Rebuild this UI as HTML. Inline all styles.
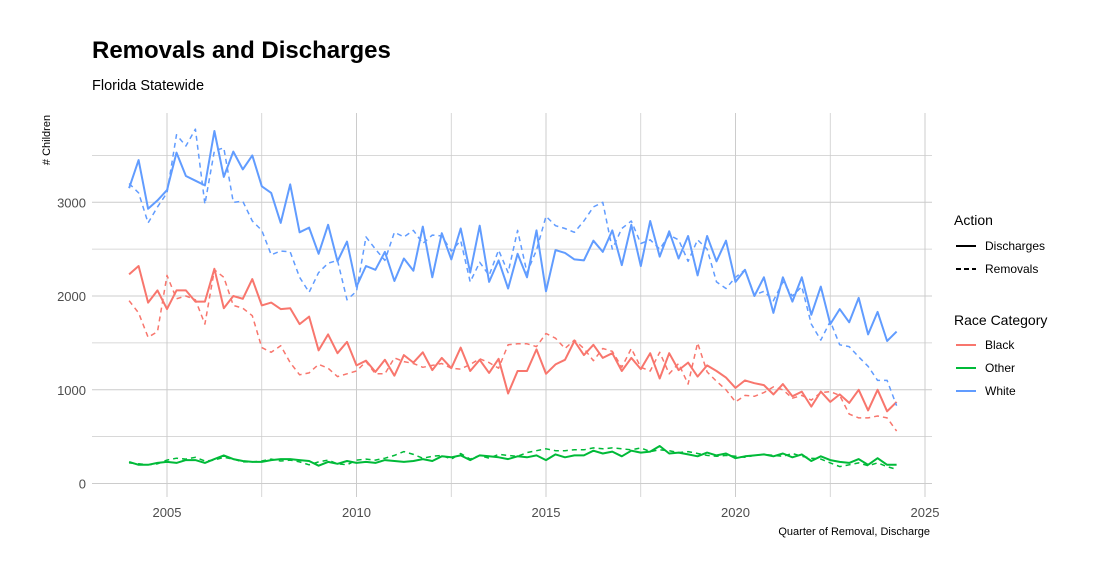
<!DOCTYPE html>
<html><head><meta charset="utf-8"><style>
body{margin:0;background:#fff;font-family:"Liberation Sans",sans-serif;}
svg text{font-family:"Liberation Sans",sans-serif;}
</style></head><body>
<svg id="chart" width="1100" height="576">
<text x="92" y="58" font-size="24" font-weight="bold" fill="#000">Removals and Discharges</text>
<text x="92" y="90" font-size="14.5" fill="#000">Florida Statewide</text>
<g id="grid"></g>
<g id="series"></g>
<g id="axes"></g>
<text transform="translate(50,140) rotate(-90)" text-anchor="middle" font-size="11" fill="#000"># Children</text>
<text x="930" y="535" text-anchor="end" font-size="11" fill="#000">Quarter of Removal, Discharge</text>
<g>
<text x="954" y="225" font-size="14">Action</text>
<line x1="956" y1="246" x2="976" y2="246" stroke="#000" stroke-width="2"/>
<text x="985" y="250" font-size="12">Discharges</text>
<line x1="956" y1="269" x2="976" y2="269" stroke="#000" stroke-width="2" stroke-dasharray="5,3"/>
<text x="985" y="273" font-size="12">Removals</text>
<text x="954" y="325" font-size="14">Race Category</text>
<line x1="956" y1="345" x2="976" y2="345" stroke="#F8766D" stroke-width="2"/>
<text x="985" y="349" font-size="12">Black</text>
<line x1="956" y1="368" x2="976" y2="368" stroke="#00BA38" stroke-width="2"/>
<text x="985" y="372" font-size="12">Other</text>
<line x1="956" y1="391" x2="976" y2="391" stroke="#619CFF" stroke-width="2"/>
<text x="985" y="395" font-size="12">White</text>
</g>
</svg>
<script>
const startYear = 2004;
const xTicks = [2005, 2010, 2015, 2020, 2025];
const yTicks = [0, 1000, 2000, 3000];
const whiteDischarges = [3150,3450,2930,3020, 3130,3530,3280,3230, 3180,3760,3270,3540, 3350,3500,3170,3100, 2780,3190,2680,2730, 2450,2760,2370,2580, 2100,2320,2280,2470, 2160,2400,2270,2740, 2200,2670,2390,2720, 2250,2750,2150,2380, 2080,2450,2200,2700, 2050,2490,2460,2390, 2380,2590,2470,2700, 2330,2760,2320,2800, 2420,2690,2400,2640, 2220,2640,2370,2590, 2150,2280,2000,2200, 1820,2200,1940,2200, 1800,2100,1700,1860, 1720,1980,1590,1830, 1520,1620];
const whiteRemovals = [3200,3100,2780,2950, 3100,3720,3600,3780, 2980,3550,3580,3000, 3010,2800,2700,2440, 2480,2470,2200,2040, 2250,2350,2380,1960, 2050,2630,2500,2380, 2680,2630,2700,2560, 2650,2640,2480,2590, 2150,2360,2220,2490, 2250,2700,2250,2490, 2850,2750,2720,2680, 2800,2950,3000,2500, 2720,2800,2560,2600, 2500,2650,2600,2370, 2600,2500,2150,2080, 2200,2280,2010,2050, 1950,2150,2000,2100, 1700,1530,1730,1480, 1460,1350,1250,1100, 1100,830];
const blackDischarges = [2230,2320,1930,2060, 1860,2060,2060,1940, 1940,2290,1870,2000, 1970,2180,1900,1930, 1860,1870,1700,1780, 1420,1590,1390,1510, 1260,1310,1190,1320, 1150,1370,1290,1400, 1210,1340,1230,1450, 1200,1320,1180,1330, 960,1200,1200,1430, 1170,1270,1320,1520, 1370,1480,1340,1390, 1200,1340,1220,1390, 1120,1390,1210,1290, 1140,1260,1200,1130, 1020,1100,1070,1050, 950,1060,930,980, 820,980,870,950, 860,1000,780,1000, 770,870];
const blackRemovals = [1950,1820,1560,1620, 2220,1970,2000,1960, 1700,2280,2200,1900, 1870,1790,1450,1400, 1470,1290,1160,1180, 1270,1230,1140,1170, 1200,1300,1170,1170, 1340,1300,1280,1240, 1260,1280,1230,1220, 1270,1330,1290,1230, 1480,1490,1490,1460, 1600,1550,1440,1530, 1440,1310,1440,1410, 1240,1440,1240,1200, 1400,1170,1280,1060, 1500,1190,1090,1000, 870,940,930,970, 1030,1000,910,940, 890,970,980,940, 740,700,700,720, 700,560];
const otherDischarges = [230,200,200,220, 230,220,250,250, 220,260,300,260, 240,230,230,250, 260,260,250,240, 190,230,210,240, 220,230,220,250, 240,230,240,260, 240,290,280,300, 250,300,290,280, 260,290,280,300, 250,310,280,300, 300,350,320,340, 290,350,330,340, 400,320,330,310, 290,330,300,320, 270,290,300,310, 290,320,280,310, 240,290,250,230, 220,260,200,270, 200,200];
const otherRemovals = [220,210,200,210, 250,270,260,280, 240,250,280,260, 230,230,240,260, 240,250,230,200, 230,250,210,200, 250,260,250,270, 300,340,310,270, 290,300,260,320, 260,300,270,310, 300,290,330,350, 370,350,350,360, 360,380,370,380, 370,360,380,340, 360,350,330,340, 320,300,290,300, 290,280,300,310, 300,290,320,290, 270,260,220,180, 200,220,190,220, 180,150];

const NS = "http://www.w3.org/2000/svg";
const X0 = 92, X1 = 932, Y0 = 113, Y1 = 497;
function xScale(t){ return 167 + (t - 2005) * 37.9; }
function yScale(v){ return 483.5 - v * 0.09375; }
function mk(tag, attrs, parent){ const e = document.createElementNS(NS, tag); for (const k in attrs) e.setAttribute(k, attrs[k]); parent.appendChild(e); return e; }

const grid = document.getElementById('grid');
for (let v = 0; v <= 3500; v += 500) {
  const l = mk('line', {x1: X0, x2: X1, y1: yScale(v), y2: yScale(v), stroke: '#cccccc', 'stroke-width': v % 1000 ? 0.8 : 1}, grid);
  
  
}
for (let t = 2002.5; t <= 2025; t += 2.5) {
  if (xScale(t) < X0) continue;
  const l = mk('line', {x1: xScale(t), x2: xScale(t), y1: Y0, y2: Y1, stroke: '#cccccc', 'stroke-width': t % 5 ? 0.8 : 1}, grid);
  
  
}
const axes = document.getElementById('axes');
yTicks.forEach(v => {
  const tx = mk('text', {x: 86, y: yScale(v) + 5, 'text-anchor': 'end', 'font-size': 13, fill: '#4d4d4d'}, axes);
  tx.textContent = v;
  
  
});
xTicks.forEach(t => {
  const tx = mk('text', {x: xScale(t), y: 517, 'text-anchor': 'middle', 'font-size': 13, fill: '#4d4d4d'}, axes);
  tx.textContent = t;
  
  
});

const seriesG = document.getElementById('series');
function drawLine(values, color, dashed, name) {
  const pts = values.map((v, i) => xScale(startYear + i * 0.25).toFixed(1) + ',' + yScale(v).toFixed(1)).join(' ');
  const p = mk('polyline', {points: pts, fill: 'none', stroke: color, 'stroke-width': dashed ? 1.5 : 2, 'stroke-linejoin': 'round', 'stroke-dasharray': dashed ? '5,4' : 'none'}, seriesG);
  
  
}
drawLine(otherRemovals, '#00BA38', true, 'line-other-removals');
drawLine(otherDischarges, '#00BA38', false, 'line-other-discharges');
drawLine(blackRemovals, '#F8766D', true, 'line-black-removals');
drawLine(blackDischarges, '#F8766D', false, 'line-black-discharges');
drawLine(whiteRemovals, '#619CFF', true, 'line-white-removals');
drawLine(whiteDischarges, '#619CFF', false, 'line-white-discharges');
</script>
</body></html>
